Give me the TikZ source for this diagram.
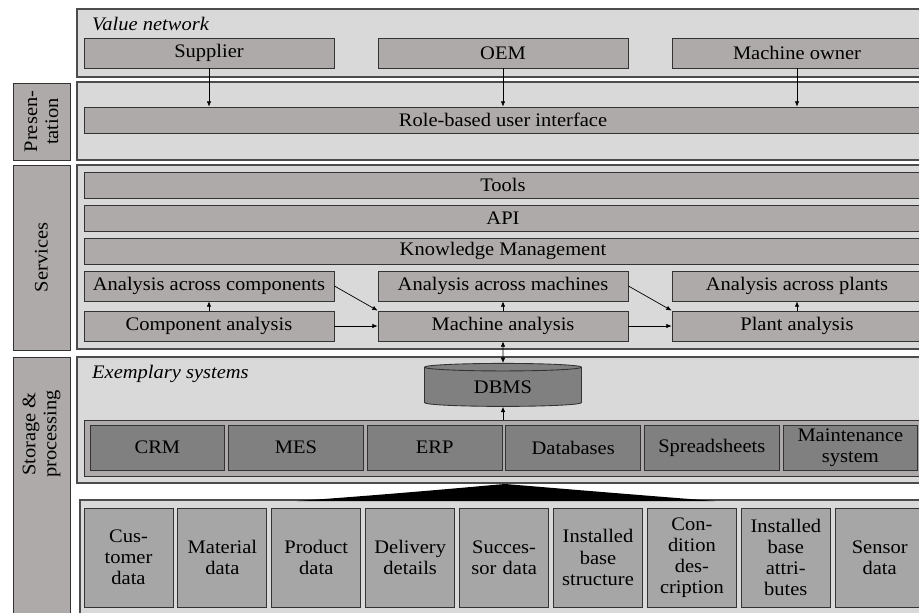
\documentclass[tikz,border=0pt]{standalone}
\usepackage{fontspec}
\setmainfont{Liberation Serif}[FakeStretch=1.07]
\usetikzlibrary{shapes.geometric,arrows.meta}
\definecolor{panelgray}{RGB}{217,217,217}
\definecolor{boxgray}{RGB}{174,170,169}
\definecolor{sysgray}{RGB}{128,128,128}
\definecolor{datagray}{RGB}{166,166,166}
\newcommand{\diagfont}{\fontsize{10.9}{12}\selectfont}
\tikzset{
  panel/.style={draw=black!70, fill=panelgray, line width=0.6pt},
  layerbox/.style={draw=black!80, fill=boxgray, inner sep=0pt, line width=0.5pt},
  wide/.style={layerbox, minimum width=16.76cm, minimum height=0.52cm},
  rolebox/.style={layerbox, minimum width=5cm, minimum height=0.6cm},
  sidelabel/.style={layerbox, rotate=90, align=center, minimum height=1.14cm},
  sysbox/.style={draw=black!80, fill=sysgray, inner sep=0pt, line width=0.5pt,
    minimum width=2.694cm, minimum height=0.9cm, align=center},
  databox/.style={draw=black!80, fill=datagray, inner sep=0pt, line width=0.5pt,
    minimum width=1.78cm, minimum height=1.98cm, text width=1.7cm, align=center},
  flow/.style={-{Latex[length=3pt,width=2.6pt]}, line width=0.4pt},
  heading/.style={anchor=base west, font=\diagfont\itshape}
}
\begin{document}
\begin{tikzpicture}[x=0.02cm, y=-0.02cm, font=\diagfont]
  \useasboundingbox (0,0) rectangle (919,612);
  \clip (0,0) rectangle (919,612);
  % layers
  \draw [panel] (77,9) rectangle (930,77);
  \draw [panel] (77,82) rectangle (930,160);
  \draw [panel] (77,165) rectangle (930,349);
  \draw [panel] (77,357) rectangle (930,483);
  \draw [panel] (80,500) rectangle (930,625);
  \draw [layerbox] (13,357) rectangle (70,630);
  \node [sidelabel, minimum width=1.54cm] (lpres) at (41.5,121.5) {Presen-\\tation};
  \node [sidelabel, minimum width=3.7cm] (lserv) at (41.5,257.5) {Services};
  \node [rotate=90, align=center] (lstor) at (41.5,434) {Storage \&\\processing};
  % value network
  \node [heading] (vn) at (86,31) {Value network};
  \node [rolebox] (sup) at (209,53) {Supplier};
  \node [rolebox] (oem) at (503,53) {OEM};
  \node [rolebox] (own) at (797,53) {Machine owner};
  \node [wide] (rui) at (503,120) {Role-based user interface};
  \draw [flow] (sup) -- (sup |- rui.north);
  \draw [flow] (oem) -- (oem |- rui.north);
  \draw [flow] (own) -- (own |- rui.north);
  % services
  \node [wide] (tools) at (503,185) {Tools};
  \node [wide] (api) at (503,218) {API};
  \node [wide] (km) at (503,251) {Knowledge Management};
  \node [rolebox] (acc) at (209,286) {Analysis across components};
  \node [rolebox] (acm) at (503,286) {Analysis across machines};
  \node [rolebox] (acp) at (797,286) {Analysis across plants};
  \node [rolebox] (ca) at (209,326) {Component analysis};
  \node [rolebox] (ma) at (503,326) {Machine analysis};
  \node [rolebox] (pa) at (797,326) {Plant analysis};
  \draw [flow] (ca) -- (acc);
  \draw [flow] (ma) -- (acm);
  \draw [flow] (pa) -- (acp);
  \draw [flow] (ca) -- (ma);
  \draw [flow] (ma) -- (pa);
  \draw [flow] (acc.east) -- (ma.north west);
  \draw [flow] (acm.east) -- (pa.north west);
  % storage
  \node [heading] (es) at (86,378) {Exemplary systems};
  \node [cylinder, shape border rotate=90, aspect=0.13, draw=black!80, fill=sysgray,
    line width=0.5pt, minimum width=3.14cm, minimum height=0.86cm, inner sep=0pt] (dbms) at (503,387) {DBMS};
  \node [layerbox, minimum width=16.76cm, minimum height=1.12cm] (sys) at (503,448) {};
  \foreach \name/\txt [count=\i from 0] in {crm/CRM, mes/MES, erp/ERP, db/Databases,
      ss/Spreadsheets, ms/{Maintenance\\system}}
    \node [sysbox] (\name) at (157.4+138.6*\i,447.5) {\txt};
  \draw [{Latex[length=3pt,width=2.6pt]}-{Latex[length=3pt,width=2.6pt]}, line width=0.4pt] (ma) -- (dbms.north);
  \draw [flow] (sys.north) -- (dbms.south);
  \fill [black] (297,501) .. controls (420,492) and (480,486) .. (505,484)
    .. controls (530,486) and (600,492) .. (715,501) -- cycle;
  \foreach \name/\txt [count=\i from 0] in {cust/{Cus-\\tomer\\data}, mat/{Material\\data},
      prod/{Product\\data}, del/{Delivery\\details}, succ/{Succes-\\sor data},
      ibs/{Installed\\base\\structure}, cond/{Con-\\dition\\des-\\cription},
      iba/{Installed\\base\\attri-\\butes}, sens/{Sensor\\data}}
    \node [databox] (\name) at (128.5+93.9*\i,557.5) {\txt};
\end{tikzpicture}
\end{document}
